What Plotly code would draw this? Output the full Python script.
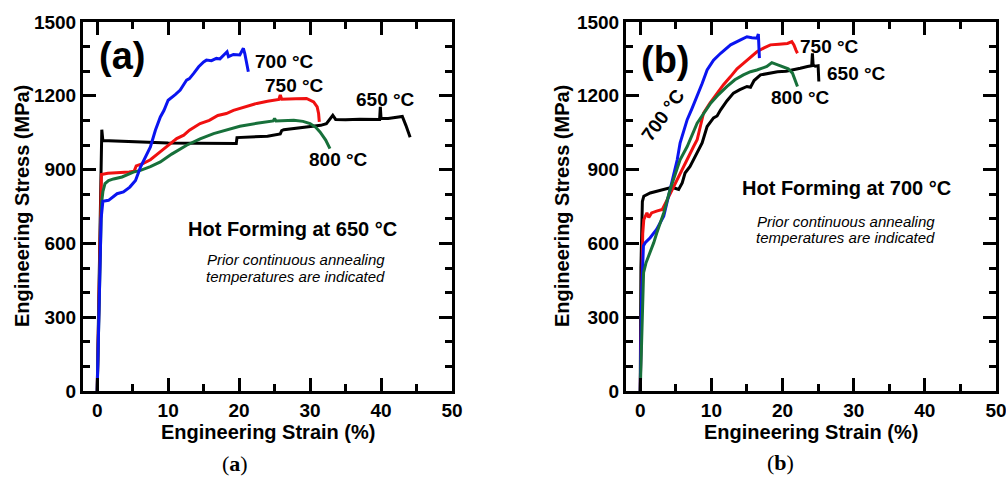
import plotly.graph_objects as go

# ---------------- data: panel (a), hot forming at 650 °C ----------------
strain_a_650 = [0, 0.55, 0.65, 0.8, 3, 6, 10, 14, 18, 19.6, 19.7, 21, 24, 25.8, 26, 26.3, 28, 30,
                31.5, 32.3, 33.2, 33.6, 35, 37, 39.8, 39.9, 40.0, 41, 42.2, 43.0, 43.5, 44.1]
stress_a_650 = [0, 1000, 1062, 1018, 1015, 1012, 1008, 1007, 1005, 1006, 1030, 1031, 1036, 1045, 1058, 1062,
                1068, 1074, 1080, 1087, 1121, 1104, 1103, 1105, 1104, 1155, 1108, 1108, 1113, 1116, 1080, 1031]

strain_a_750 = [0, 0.45, 0.6, 1.5, 3, 4.5, 5.2, 5.5, 6.5, 7.5, 9, 10.2, 11.2, 12.2, 13, 14.5, 15.8, 17, 18.2,
                19.2, 21, 22.5, 24, 25.6, 25.8, 26.0, 28, 29.5, 30.5, 31.0, 31.2, 31.3]
stress_a_750 = [0, 700, 880, 885, 887, 890, 893, 915, 925, 940, 975, 1005, 1026, 1040, 1060, 1087, 1100, 1120,
                1128, 1141, 1158, 1169, 1178, 1185, 1203, 1186, 1188, 1189, 1175, 1155, 1128, 1094]

strain_a_800 = [0, 0.42, 0.6, 0.8, 1.1, 1.6, 2.3, 3.5, 5.1, 6.1, 7.5, 8.9, 10.5, 12.6, 14.5, 16.4, 18.3,
                20.1, 22.5, 24.8, 25.0, 25.2, 27.7, 29, 30, 30.8, 31.4, 32.2, 32.8]
stress_a_800 = [0, 570, 760, 810, 843, 855, 862, 870, 890, 897, 912, 931, 963, 999, 1025, 1046, 1062,
                1076, 1088, 1098, 1108, 1098, 1101, 1096, 1087, 1072, 1053, 1020, 985]

strain_a_700 = [0, 0.55, 0.8, 1.6, 2.8, 3.7, 4.6, 5.4, 6.1, 7.0, 7.5, 8.2, 8.9, 9.4, 10.0, 11.0, 11.7, 12.6,
                13.0, 13.6, 14.3, 15.0, 15.4, 16.1, 16.8, 17.3, 17.8, 18.3, 18.5, 19.2, 20.1, 20.6, 20.8, 21.3]
stress_a_700 = [0, 700, 771, 775, 802, 809, 829, 856, 910, 965, 992, 1060, 1114, 1140, 1182, 1205, 1223, 1264,
                1270, 1291, 1318, 1338, 1345, 1343, 1352, 1350, 1366, 1379, 1359, 1368, 1366, 1393, 1372, 1298]

# ---------------- data: panel (b), hot forming at 700 °C ----------------
strain_b_650 = [0, 0.1, 0.3, 0.5, 1.4, 2.3, 3.3, 4.2, 4.9, 5.4, 5.9, 6.3, 7.0, 8.0, 8.7, 9.4, 10.3, 10.8,
                11.3, 12.2, 13.1, 14.0, 15.0, 15.5, 16.0, 16.9, 18.0, 19.3, 20.5, 21.6, 22.5, 23.5, 24.1,
                24.2, 24.3, 24.6, 25.0, 25.1]
stress_b_650 = [0, 500, 770, 792, 805, 812, 819, 826, 824, 819, 846, 886, 913, 968, 1008, 1075, 1110, 1118,
                1143, 1180, 1211, 1225, 1238, 1235, 1262, 1285, 1292, 1298, 1300, 1305, 1312, 1319, 1322,
                1373, 1325, 1320, 1322, 1258]

strain_b_750 = [0, 0.2, 0.35, 0.5, 0.94, 1.2, 1.6, 2.3, 3.1, 3.8, 4.7, 5.6, 6.6, 7.5, 8.0, 8.9, 9.8, 10.8,
                11.7, 12.7, 13.6, 14.5, 15.5, 16.4, 17.4, 18.3, 19.5, 20.7, 21.3, 21.6, 21.9, 22.1]
stress_b_750 = [0, 400, 640, 697, 724, 705, 724, 731, 738, 778, 832, 886, 940, 994, 1021, 1130, 1170, 1211,
                1245, 1278, 1310, 1332, 1355, 1379, 1395, 1407, 1410, 1413, 1420, 1407, 1385, 1373]

strain_b_700 = [0, 0.2, 0.45, 0.7, 1.4, 2.3, 3.3, 4.2, 5.2, 5.6, 6.6, 7.3, 8.0, 8.7, 9.4, 10.3, 11.3,
                12.7, 14.1, 15.0, 15.7, 16.4, 16.6, 16.7, 16.75]
stress_b_700 = [0, 400, 590, 603, 623, 657, 711, 819, 940, 1008, 1103, 1150, 1197, 1250, 1305, 1345, 1373,
                1407, 1427, 1440, 1436, 1434, 1451, 1400, 1353]

strain_b_800 = [0, 0.1, 0.2, 0.47, 0.8, 1.2, 1.9, 2.3, 3.3, 4.2, 5.6, 6.6, 8.0, 9.9, 11.0, 12.2, 13.3,
                14.5, 15.5, 16.4, 17.8, 18.5, 19.3, 20.2, 20.8, 21.4, 21.8, 22.1]
stress_b_800 = [0, 120, 251, 481, 520, 548, 603, 640, 724, 819, 940, 994, 1089, 1170, 1205, 1238, 1265,
                1285, 1298, 1305, 1319, 1335, 1326, 1319, 1310, 1292, 1265, 1238]

x_tick_vals = [0, 10, 20, 30, 40, 50]
y_tick_vals = [0, 300, 600, 900, 1200, 1500]

BLUE = "#0a14f0"
RED = "#f01010"
GREEN = "#17703a"
BLACK = "#000000"

W, H = 1006, 477
SANS = "Liberation Sans"

fig = go.Figure()

panel_a = [(strain_a_650, stress_a_650, BLACK, "650 °C"),
           (strain_a_750, stress_a_750, RED, "750 °C"),
           (strain_a_800, stress_a_800, GREEN, "800 °C"),
           (strain_a_700, stress_a_700, BLUE, "700 °C")]
panel_b = [(strain_b_650, stress_b_650, BLACK, "650 °C"),
           (strain_b_750, stress_b_750, RED, "750 °C"),
           (strain_b_700, stress_b_700, BLUE, "700 °C"),
           (strain_b_800, stress_b_800, GREEN, "800 °C")]

for xs, ys, col, name in panel_a:
    fig.add_trace(go.Scatter(x=xs, y=ys, mode="lines", name=name,
                             line=dict(color=col, width=3), xaxis="x", yaxis="y",
                             showlegend=False))
for xs, ys, col, name in panel_b:
    fig.add_trace(go.Scatter(x=xs, y=ys, mode="lines", name=name,
                             line=dict(color=col, width=3), xaxis="x2", yaxis="y2",
                             showlegend=False))


def px_x(p):
    """pixel column -> paper fraction"""
    return p / W


def px_y(p):
    """pixel row -> paper fraction"""
    return 1 - p / H


tick_font = dict(family=SANS, size=19, color="black", weight="bold")
common_x = dict(range=[-2, 50], tickvals=x_tick_vals, ticks="inside", ticklen=13, tickwidth=2.5,
                tickcolor="black", showline=True, linewidth=3, linecolor="black", mirror="allticks",
                showgrid=False, zeroline=False, tickfont=tick_font, ticklabelstandoff=0,
                automargin=False, ticklabeloverflow="allow",
                minor=dict(dtick=5, tick0=0, ticks="inside", ticklen=7, tickwidth=2.5, tickcolor="black",
                           showgrid=False))
common_y = dict(range=[0, 1500], tickvals=y_tick_vals, ticks="inside", ticklen=13, tickwidth=2.5,
                tickcolor="black", showline=True, linewidth=3, linecolor="black", mirror="allticks",
                showgrid=False, zeroline=False, tickfont=tick_font, ticklabelstandoff=0,
                automargin=False, ticklabeloverflow="allow",
                minor=dict(dtick=100, tick0=0, ticks="inside", ticklen=7, tickwidth=2.5, tickcolor="black",
                           showgrid=False))

ydom = [px_y(391), px_y(22)]
fig.update_layout(
    width=W, height=H, margin=dict(l=0, r=0, t=0, b=0, autoexpand=False),
    paper_bgcolor="white", plot_bgcolor="white",
    xaxis=dict(domain=[px_x(83), px_x(452)], anchor="y", **common_x),
    yaxis=dict(domain=ydom, anchor="x", **common_y),
    xaxis2=dict(domain=[px_x(626), px_x(996)], anchor="y2", **common_x),
    yaxis2=dict(domain=ydom, anchor="x2", **common_y),
)

ann = []


def label(text, x, y, xref, yref, size=19, xanchor="center", bold=True, italic=False,
          family=SANS, angle=0):
    ann.append(dict(text=text, x=x, y=y, xref=xref, yref=yref, showarrow=False,
                    xanchor=xanchor, yanchor="middle", textangle=angle,
                    font=dict(family=family, size=size, color="black",
                              weight="bold" if bold else "normal",
                              style="italic" if italic else "normal")))


# panel (a) texts
label("(a)", 3.45, 1360, "x", "y", size=38)
label("700 °C", 22.0, 1339, "x", "y", xanchor="left")
label("750 °C", 23.4, 1240, "x", "y", xanchor="left")
label("650 °C", 36.2, 1186, "x", "y", xanchor="left")
label("800 °C", 29.6, 942, "x", "y", xanchor="left")
label("Hot Forming at 650 °C", 27.5, 657, "x", "y", size=20)
label("Prior continuous annealing", 28.0, 534, "x", "y", size=15, bold=False, italic=True)
label("temperatures are indicated", 28.0, 467, "x", "y", size=15, bold=False, italic=True)

# panel (b) texts
label("(b)", 3.5, 1346, "x2", "y2", size=38)
label("750 °C", 22.2, 1400, "x2", "y2", xanchor="left")
label("650 °C", 26.0, 1289, "x2", "y2", xanchor="left")
label("800 °C", 18.1, 1194, "x2", "y2", xanchor="left")
label("700 °C", 3.3, 1122, "x2", "y2", angle=-54)
label("Hot Forming at 700 °C", 29.0, 824, "x2", "y2", size=20)
label("Prior continuous annealing", 28.9, 688, "x2", "y2", size=15, bold=False, italic=True)
label("temperatures are indicated", 28.9, 625, "x2", "y2", size=15, bold=False, italic=True)

# axis titles
for cx in (267.5, 811):
    label("Engineering Strain (%)", px_x(cx), px_y(431.5), "paper", "paper", size=20)
for cx in (22.5, 562.5):
    label("Engineering Stress (MPa)", px_x(cx), px_y(206.5), "paper", "paper", size=20, angle=-90)

# sub-figure captions
label("(<b>a</b>)", px_x(235), px_y(463), "paper", "paper", size=22, bold=False,
      family="Liberation Serif")
label("(<b>b</b>)", px_x(780), px_y(462), "paper", "paper", size=22, bold=False,
      family="Liberation Serif")

fig.update_layout(annotations=ann)
fig.write_html("out.html")
